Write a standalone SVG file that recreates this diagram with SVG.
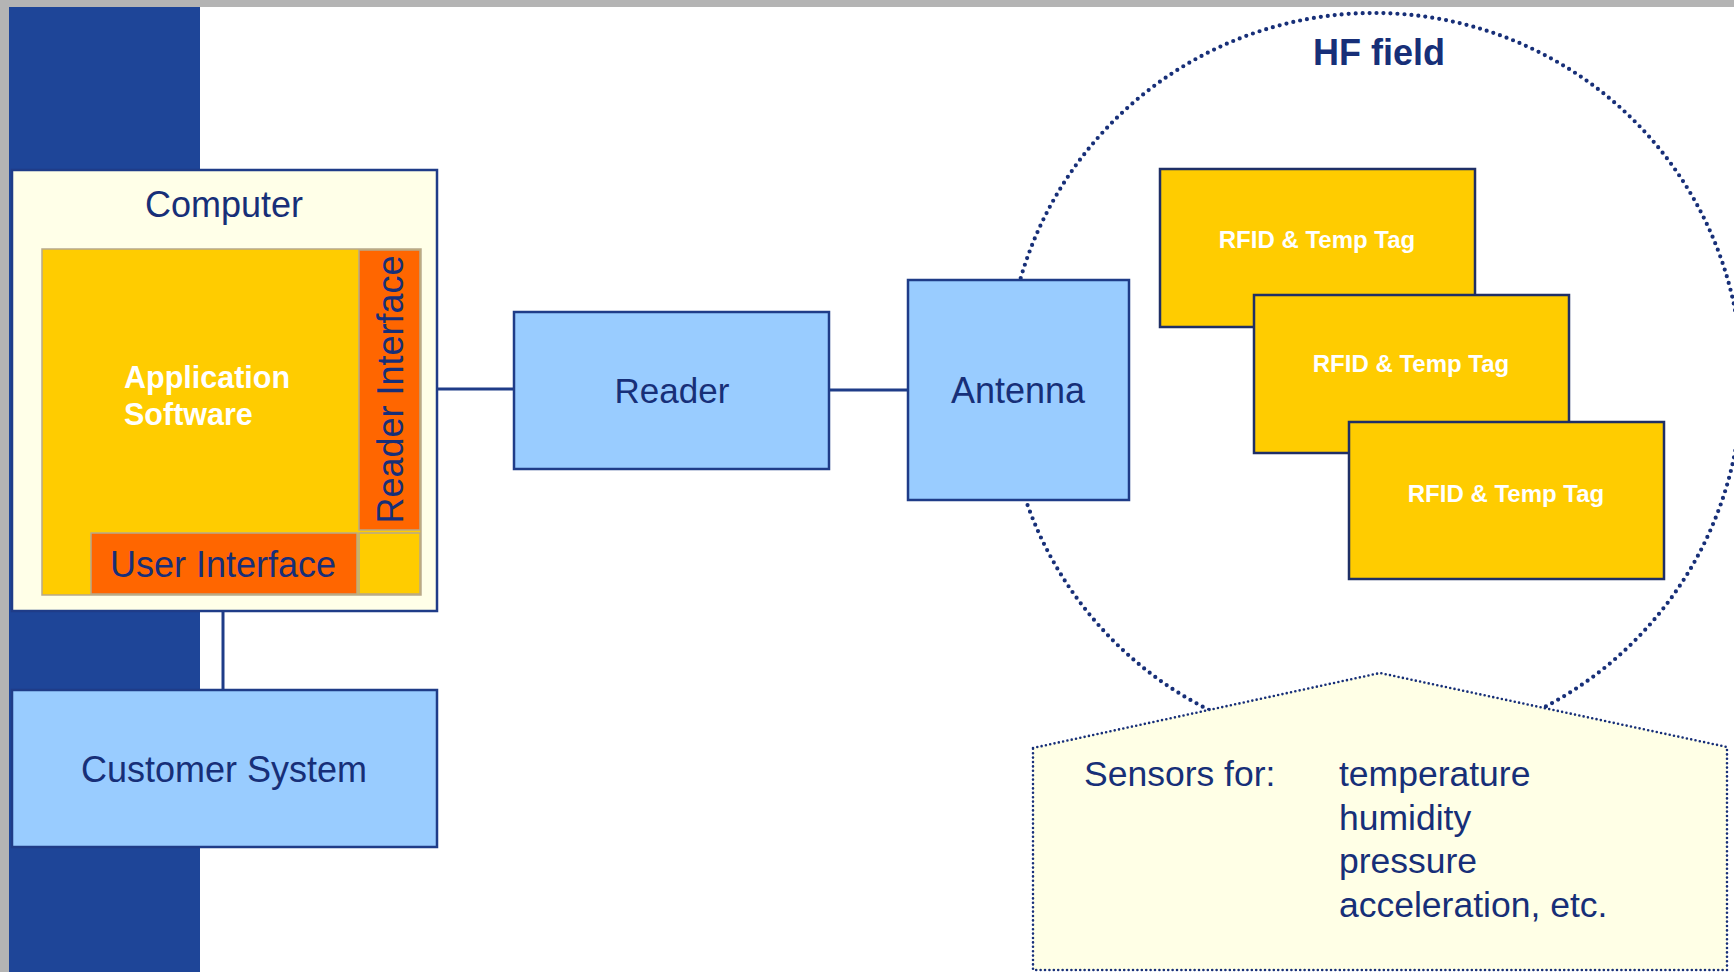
<svg xmlns="http://www.w3.org/2000/svg" width="1734" height="972" viewBox="0 0 1734 972">
<style>
  .txt { font-family: "Liberation Sans", Arial, sans-serif; fill: #172f78; }
  .big { font-size: 36px; }
  .wb { font-family: "Liberation Sans", Arial, sans-serif; font-weight: bold; fill: #ffffff; }
  .box { stroke: #1f3c88; stroke-width: 2.5; }
  .lb { fill: #99ccff; }
  .tag { fill: #ffcc00; stroke: #1f2f66; stroke-width: 2.5; }
  .inner { stroke: #b8a98a; stroke-width: 1.5; }
  .conn { stroke: #1f3c88; stroke-width: 3; fill: none; }
</style>
<rect x="0" y="0" width="1734" height="972" fill="#ffffff"/>
<rect x="0" y="0" width="1734" height="7" fill="#b4b4b4"/>
<rect x="0" y="0" width="9" height="972" fill="#b4b4b4"/>
<rect x="9" y="7" width="191" height="965" fill="#1e4598"/>

<g id="hf-field">
  <circle cx="1374" cy="381" r="368" fill="none" stroke="#172f78" stroke-width="4.2" stroke-dasharray="0 7" stroke-linecap="round"/>
  <text class="txt" x="1379" y="65" font-size="36" font-weight="bold" text-anchor="middle" fill="#1a3580">HF field</text>
</g>

<g id="connectors">
  <line class="conn" x1="437" y1="389" x2="514" y2="389"/>
  <line class="conn" x1="829" y1="390" x2="908" y2="390"/>
  <line class="conn" x1="223" y1="611" x2="223" y2="690"/>
</g>

<g id="computer">
  <rect class="box" x="12" y="170" width="425" height="441" fill="#ffffe8"/>
  <text class="txt big" x="224" y="217" text-anchor="middle">Computer</text>
  <rect class="inner" x="42" y="249" width="379" height="346" fill="#ffcc00"/>
</g>

<g id="application-software">
  <text class="wb" font-size="30.5"><tspan x="124" y="388">Application</tspan><tspan x="124" y="425">Software</tspan></text>
</g>

<g id="reader-interface">
  <rect class="inner" x="359" y="250" width="61" height="280" fill="#ff6600"/>
  <text class="txt big" transform="translate(403,389.5) rotate(-90)" x="0" y="0" text-anchor="middle">Reader Interface</text>
</g>

<g id="user-interface">
  <rect class="inner" x="91" y="533" width="266" height="61" fill="#ff6600"/>
  <rect class="inner" x="359" y="533" width="61" height="61" fill="#ffcc00"/>
  <text class="txt big" x="110" y="577">User Interface</text>
</g>

<g id="customer-system">
  <rect class="box lb" x="12" y="690" width="425" height="157"/>
  <text class="txt big" x="224" y="782" text-anchor="middle">Customer System</text>
</g>

<g id="reader">
  <rect class="box lb" x="514" y="312" width="315" height="157"/>
  <text class="txt" font-size="35" x="672" y="403" text-anchor="middle">Reader</text>
</g>

<g id="antenna">
  <rect class="box lb" x="908" y="280" width="221" height="220"/>
  <text class="txt big" x="1018" y="403" text-anchor="middle">Antenna</text>
</g>

<g id="tag1">
  <rect class="tag" x="1160" y="169" width="315" height="158"/>
  <text class="wb" font-size="24" x="1317" y="248" text-anchor="middle">RFID &amp; Temp Tag</text>
</g>
<g id="tag2">
  <rect class="tag" x="1254" y="295" width="315" height="158"/>
  <text class="wb" font-size="24" x="1411" y="372" text-anchor="middle">RFID &amp; Temp Tag</text>
</g>
<g id="tag3">
  <rect class="tag" x="1349" y="422" width="315" height="157"/>
  <text class="wb" font-size="24" x="1506" y="502" text-anchor="middle">RFID &amp; Temp Tag</text>
</g>

<g id="sensors">
  <polygon points="1033,748 1380,673 1727,747 1727,970 1033,970" fill="#ffffe6" stroke="#172f78" stroke-width="2.6" stroke-dasharray="0 4.4" stroke-linecap="round"/>
  <text class="txt" font-size="35.5" x="1084" y="786">Sensors for:</text>
  <text class="txt" font-size="35.5">
    <tspan x="1339" y="786">temperature</tspan>
    <tspan x="1339" y="830">humidity</tspan>
    <tspan x="1339" y="873">pressure</tspan>
    <tspan x="1339" y="917">acceleration, etc.</tspan>
  </text>
</g>
</svg>
